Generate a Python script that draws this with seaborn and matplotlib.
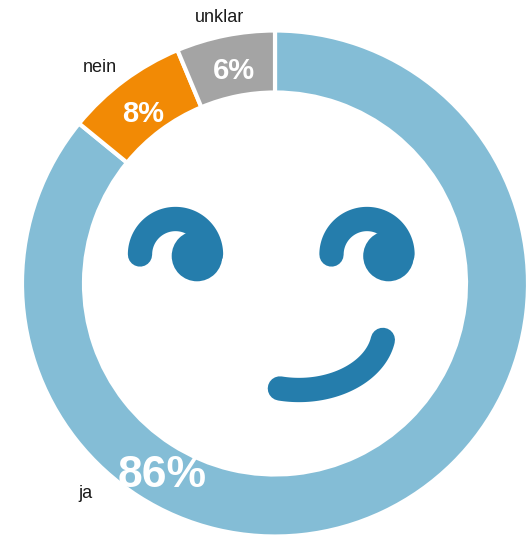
import matplotlib
matplotlib.use("Agg")
import matplotlib.pyplot as plt
import numpy as np
import seaborn as sns

categories = ["ja", "nein", "unklar"]
shares = [85.9, 7.8, 6.3]
share_labels = ["86%", "8%", "6%"]
colors = ["#84bdd6", "#f28a05", "#a4a4a4"]
FACE = "#257dac"

W, H = 528, 535


def flip(y):
    return H - y


def face_arc(ax, cx, cy, rx, ry, start, end):
    t = np.radians(np.linspace(start, end, 80))
    sns.lineplot(x=cx + rx * np.cos(t), y=flip(cy) + ry * np.sin(t), sort=False, estimator=None,
                 color=FACE, linewidth=17.5, solid_capstyle="round", ax=ax)


sns.set_theme(style="white")
plt.rcParams["font.family"] = ["Liberation Sans", "DejaVu Sans"]

fig = plt.figure(figsize=(W / 100, H / 100), dpi=100)
ax = fig.add_axes([0, 0, 1, 1])

ax.pie(shares, colors=colors, startangle=90, counterclock=False, center=(275, flip(283.5)), radius=253,
       wedgeprops={"width": 62, "edgecolor": "white", "linewidth": 3}, frame=True)
ax.set_xlim(0, W)
ax.set_ylim(0, H)
ax.set_aspect("equal")
ax.axis("off")

# eyes
for arc_x, pupil_x in [(175.5, 197), (367, 388.5)]:
    face_arc(ax, arc_x, 254.5, 35.5, 35.5, 180, 0)
    ax.add_patch(plt.Circle((pupil_x, flip(256)), 25.3, color=FACE, lw=0))
# mouth
face_arc(ax, 299, 330, 85, 60, 257, 350.5)

for name, x, y in zip(categories, [85, 100, 219], [494, 68, 17]):
    ax.text(x, flip(y), name, fontsize=13, color="#1a1a1a", ha="center", va="center")

for label, x, y, size in zip(share_labels, [162, 143, 234], [471, 111, 68], [32, 21, 21]):
    ax.text(x, flip(y), label, fontsize=size, fontweight="bold", color="white", ha="center", va="center_baseline")

fig.savefig("out.png", dpi=100)
